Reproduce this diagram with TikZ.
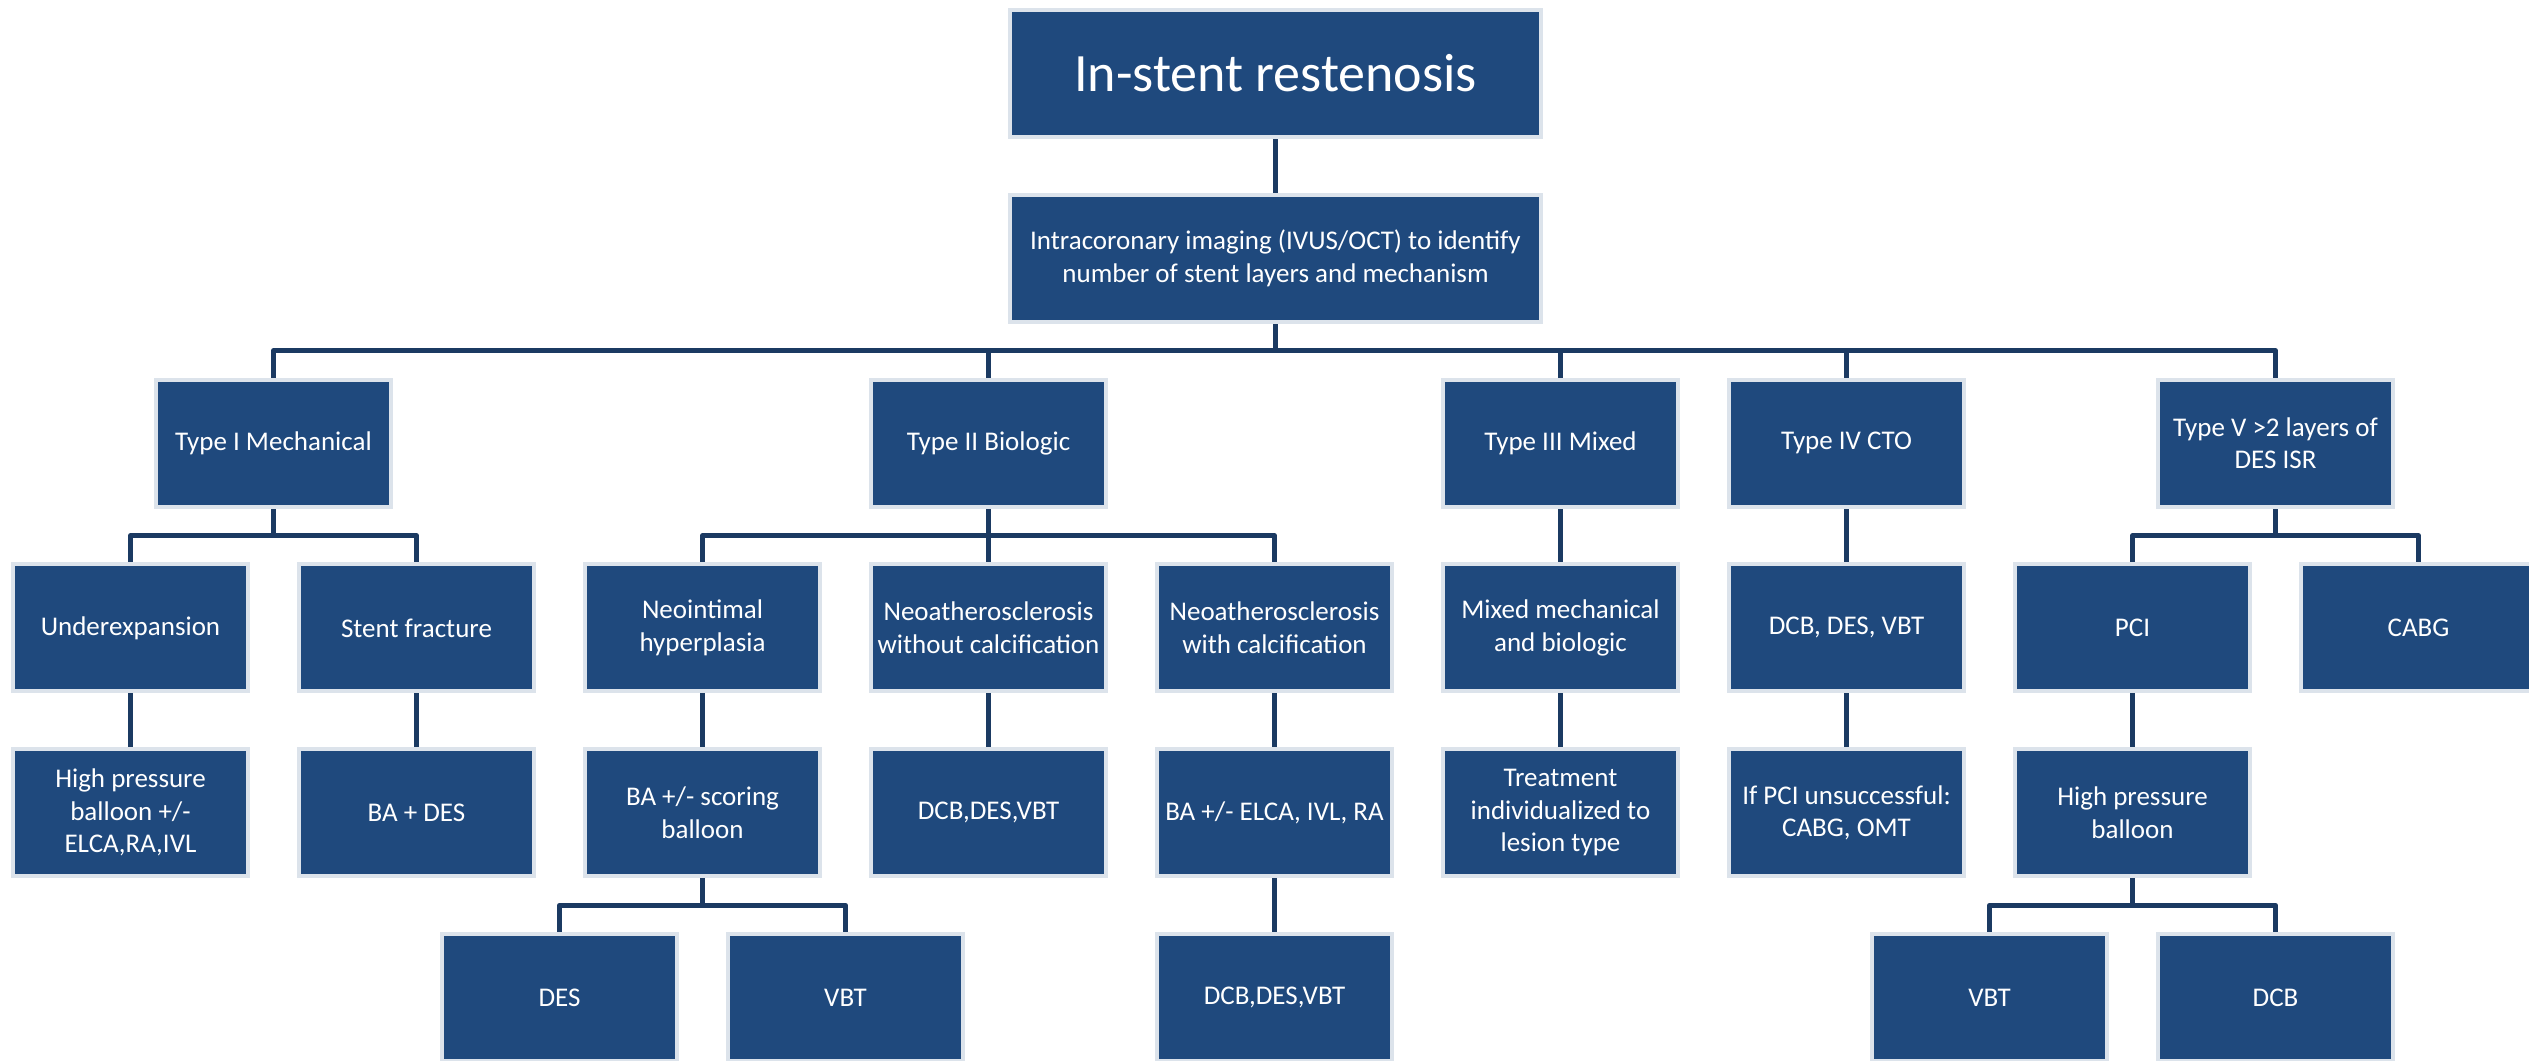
\documentclass[tikz,border=0pt]{standalone}
\usepackage{fontspec}
\setmainfont{Carlito}
\definecolor{boxblue}{HTML}{1F497D}
\definecolor{linkblue}{HTML}{1B3A62}
\definecolor{halo}{HTML}{DCE3EB}
\pgfdeclarelayer{bg}
\pgfsetlayers{bg,main}
\begin{document}
\begin{tikzpicture}[x=1pt,y=-1pt,
  bx/.style={fill=boxblue, text=white, minimum width=231pt, minimum height=123pt,
    inner sep=2pt, outer sep=0pt, align=center,
    font=\fontsize{27pt}{32.5pt}\selectfont,
    preaction={draw=halo, line width=8pt}},
  wide/.style={bx, minimum width=527pt},
  link/.style={draw=linkblue, line width=5pt, line join=round}]
\useasboundingbox (0,0) rectangle (2529,1060);
% row 0 / 1
\node[wide, font=\fontsize{54pt}{60pt}\selectfont] (top) at (1275.5,73.5) {In-stent restenosis};
\node[wide] (img) at (1275.5,258.3) {Intracoronary imaging (IVUS/OCT) to identify\\number of stent layers and mechanism};
% row 2
\node[bx] (t1) at (273.5,443.1) {Type I Mechanical};
\node[bx] (t2) at (988.5,443.1) {Type II Biologic};
\node[bx] (t3) at (1560.5,443.1) {Type III Mixed};
\node[bx] (t4) at (1846.5,443.1) {Type IV CTO};
\node[bx] (t5) at (2275.5,443.1) {Type V >2 layers of\\DES ISR};
% row 3
\node[bx] (under) at (130.5,627.9) {Underexpansion};
\node[bx] (frac) at (416.5,627.9) {Stent fracture};
\node[bx] (neo) at (702.5,627.9) {Neointimal\\hyperplasia};
\node[bx] (nwo) at (988.5,627.9) {Neoatherosclerosis\\without calcification};
\node[bx] (nw) at (1274.5,627.9) {Neoatherosclerosis\\with calcification};
\node[bx] (mix) at (1560.5,627.9) {Mixed mechanical\\and biologic};
\node[bx] (dcb) at (1846.5,627.9) {DCB, DES, VBT};
\node[bx] (pci) at (2132.5,627.9) {PCI};
\node[bx] (cabg) at (2418.5,627.9) {CABG};
% row 4
\node[bx] (hp) at (130.5,812.7) {High pressure\\balloon +/-\\ELCA,RA,IVL};
\node[bx] (bades) at (416.5,812.7) {BA + DES};
\node[bx] (bas) at (702.5,812.7) {BA +/- scoring\\balloon};
\node[bx] (dcbb) at (988.5,812.7) {DCB,DES,VBT};
\node[bx] (baelca) at (1274.5,812.7) {BA +/- ELCA, IVL, RA};
\node[bx] (treat) at (1560.5,812.7) {Treatment\\individualized to\\lesion type};
\node[bx] (ifpci) at (1846.5,812.7) {If PCI unsuccessful:\\CABG, OMT};
\node[bx] (hpb) at (2132.5,812.7) {High pressure\\balloon};
% row 5
\node[bx] (des) at (559.5,997.5) {DES};
\node[bx] (vbt) at (845.5,997.5) {VBT};
\node[bx] (dcbc) at (1274.5,997.5) {DCB,DES,VBT};
\node[bx] (vbtb) at (1989.5,997.5) {VBT};
\node[bx] (dcbd) at (2275.5,997.5) {DCB};
% connectors
\begin{pgfonlayer}{bg}
\draw[link] (top.south) -- (img.north);
\foreach \c in {t1,t2,t3,t4,t5} \draw[link] (img.south) -- ++(0,31) -| (\c.north);
\foreach \c in {under,frac} \draw[link] (t1.south) -- ++(0,31) -| (\c.north);
\foreach \c in {neo,nwo,nw} \draw[link] (t2.south) -- ++(0,31) -| (\c.north);
\draw[link] (t3.south) -- (mix.north);
\draw[link] (t4.south) -- (dcb.north);
\foreach \c in {pci,cabg} \draw[link] (t5.south) -- ++(0,31) -| (\c.north);
\draw[link] (under.south) -- (hp.north);
\draw[link] (frac.south) -- (bades.north);
\draw[link] (neo.south) -- (bas.north);
\draw[link] (nwo.south) -- (dcbb.north);
\draw[link] (nw.south) -- (baelca.north);
\draw[link] (mix.south) -- (treat.north);
\draw[link] (dcb.south) -- (ifpci.north);
\draw[link] (pci.south) -- (hpb.north);
\foreach \c in {des,vbt} \draw[link] (bas.south) -- ++(0,31) -| (\c.north);
\draw[link] (baelca.south) -- (dcbc.north);
\foreach \c in {vbtb,dcbd} \draw[link] (hpb.south) -- ++(0,31) -| (\c.north);
\end{pgfonlayer}
\end{tikzpicture}
\end{document}
